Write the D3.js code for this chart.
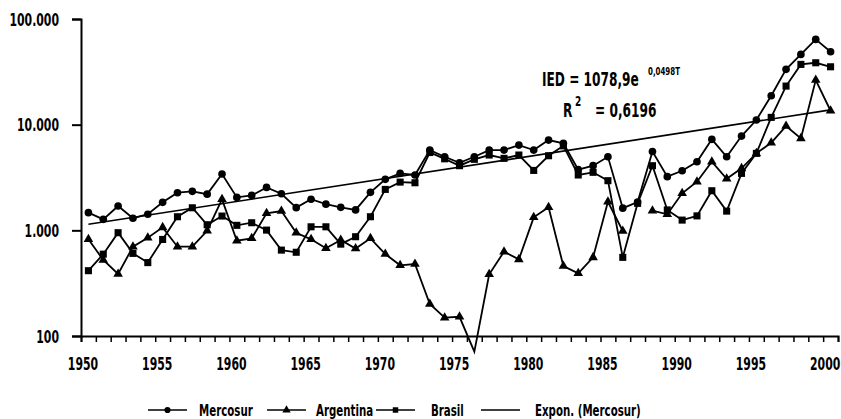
<!DOCTYPE html>
<html lang="es">
<head>
  <meta charset="UTF-8">
  <script src="https://d3js.org/d3.v7.min.js" charset="utf-8"></script>
  <title>IED Mercosur</title>
  <style>
    body { margin: 0; background: #fff; }
    text { font-family: "DejaVu Sans", sans-serif; font-weight: bold; fill: #000; }
  </style>
</head>
<body>
  <script type="text/javascript">
    // data (IED, log scale)
    var years = d3.range(1950, 2001);
    var mercosur = [1470, 1270, 1700, 1300, 1420, 1840, 2270, 2340, 2200, 3410,
      2050, 2140, 2550, 2220, 1640, 1970, 1770, 1650, 1560, 2290,
      3040, 3460, 3340, 5750, 4970, 4360, 4970, 5750, 5750, 6410,
      5750, 7150, 6650, 3750, 4090, 4970, 1620, 1850, 5570, 3220,
      3660, 4460, 7260, 4970, 7800, 11060, 18760, 33370, 46240, 64130, 48960];
    var argentina = [822, 524, 386, 700, 851, 1067, 700, 700, 991, 1965,
      797, 840, 1448, 1523, 949, 822, 676, 809, 672, 840,
      597, 467, 480, 201, 149, 152, 71, 384, 628, 531,
      1327, 1651, 459, 392, 555, 1865, 985, null, 1533, 1417,
      2239, 2884, 4457, 3077, 3859, 5350, 6743, 9700, 7420, 26420, 13540];
    var brasil = [415, 595, 950, 605, 495, 820, 1345, 1635, 1130, 1365,
      1115, 1180, 1005, 650, 620, 1080, 1080, 740, 870, 1345,
      2440, 2860, 2820, 5450, 4750, 4090, 4700, 5160, 4800, 5160,
      3690, 5080, 6300, 3340, 3540, 2950, 555, 1800, 4090, 1560,
      1250, 1370, 2370, 1520, 3460, 5350, 11720, 23180, 37180, 38530, 35300];
    // exponential trend (Mercosur), end values
    var trendYears = [1950, 2000];
    var trendValues = [1140, 13800];
    var yTicks = [100, 1000, 10000, 100000];
    var xLabels = [1950, 1955, 1960, 1965, 1970, 1975, 1980, 1985, 1990, 1995, 2000];

    var W = 841, H = 419;
    var plot = { left: 81, right: 838, top: 19, bottom: 336 };
    var squeeze = 0.64;   // the original font is a very narrow bold face

    var svg = d3.select("body").append("svg")
      .attr("width", W)
      .attr("height", H);

    // category axis: boundaries every year, points in the middle
    var xb = d3.scaleLinear().domain([1950, 2001]).range([plot.left, plot.right]);
    function xc(yr) { return xb(yr + 0.5); }
    var y = d3.scaleLog().domain([100, 100000]).range([plot.bottom, plot.top]);

    // y axis
    var yAxis = d3.axisLeft(y)
      .tickValues(yTicks)
      .tickSize(9)
      .tickPadding(13)
      .tickFormat(function (d) { return d3.format(",")(d).replace(/,/g, "."); });
    var gy = svg.append("g")
      .attr("transform", "translate(" + plot.left + ",0)")
      .call(yAxis);
    gy.select(".domain").attr("stroke", "#000").attr("stroke-width", 2);
    gy.selectAll(".tick line").attr("stroke", "#000").attr("stroke-width", 2);
    gy.selectAll(".tick text").attr("font-size", 17).attr("dy", "0.36em")
      .attr("font-family", null).attr("fill", null);

    // x axis ticks
    var xAxis = d3.axisBottom(xb)
      .tickValues(d3.range(1950, 2002))
      .tickSize(6)
      .tickFormat("");
    var gx = svg.append("g")
      .attr("transform", "translate(0," + plot.bottom + ")")
      .call(xAxis);
    gx.select(".domain").attr("stroke", "#000").attr("stroke-width", 2);
    gx.selectAll(".tick line").attr("stroke", "#000").attr("stroke-width", 1.5);

    svg.append("g").selectAll("text")
      .data(xLabels)
      .enter()
      .append("text")
      .attr("x", function (d) { return xb(d) + 2; })
      .attr("y", 370)
      .attr("text-anchor", "middle")
      .attr("font-size", 17)
      .text(function (d) { return d; });

    // trend line
    svg.append("path")
      .datum(trendYears.map(function (d, i) { return [d, trendValues[i]]; }))
      .attr("fill", "none")
      .attr("stroke", "#000")
      .attr("stroke-width", 1.6)
      .attr("d", d3.line()
        .x(function (d) { return xc(d[0]); })
        .y(function (d) { return y(d[1]); }));

    var series = [
      { name: "Mercosur", values: mercosur, symbol: d3.symbolCircle, size: 46 },
      { name: "Argentina", values: argentina, symbol: d3.symbolTriangle, size: 40 },
      { name: "Brasil", values: brasil, symbol: d3.symbolSquare, size: 50 }
    ];

    var line = d3.line()
      .defined(function (d) { return d[1] != null; })
      .x(function (d) { return xc(d[0]); })
      .y(function (d) { return y(d[1]); });

    series.forEach(function (s) {
      var pts = years.map(function (yr, i) { return [yr, s.values[i]]; });
      svg.append("path")
        .datum(pts)
        .attr("fill", "none")
        .attr("stroke", "#000")
        .attr("stroke-width", 1.8)
        .attr("d", line);
      // markers only inside the plot area
      svg.append("g").selectAll("path")
        .data(pts.filter(function (d) { return d[1] != null && d[1] >= 100; }))
        .enter()
        .append("path")
        .attr("transform", function (d) { return "translate(" + xc(d[0]) + "," + y(d[1]) + ")"; })
        .attr("d", d3.symbol().type(s.symbol).size(s.size))
        .attr("fill", "#000");
    });

    // equation
    var eq = svg.append("g");
    eq.append("text").attr("x", 542).attr("y", 86).attr("font-size", 19).text("IED = 1078,9e");
    eq.append("text").attr("x", 648).attr("y", 75).attr("font-size", 11).text("0,0498T");
    eq.append("text").attr("x", 563).attr("y", 116.5).attr("font-size", 19).text("R");
    eq.append("text").attr("x", 575).attr("y", 106).attr("font-size", 14).text("2");
    eq.append("text").attr("x", 595).attr("y", 116.5).attr("font-size", 19).text("= 0,6196");

    // legend
    var legendItems = [
      { name: "Mercosur", symbol: d3.symbolCircle, size: 30, x: 148, tx: 199 },
      { name: "Argentina", symbol: d3.symbolTriangle, size: 30, x: 267, tx: 316 },
      { name: "Brasil", symbol: d3.symbolSquare, size: 30, x: 376, tx: 431 },
      { name: "Expon. (Mercosur)", symbol: null, size: 0, x: 481, tx: 535 }
    ];
    var lg = svg.append("g").selectAll("g")
      .data(legendItems)
      .enter()
      .append("g");
    lg.append("line")
      .attr("x1", function (d) { return d.x; })
      .attr("x2", function (d) { return d.x + 39; })
      .attr("y1", 410).attr("y2", 410)
      .attr("stroke", "#000")
      .attr("stroke-width", 1.6);
    lg.filter(function (d) { return d.symbol; })
      .append("path")
      .attr("transform", function (d) { return "translate(" + (d.x + 19.5) + ",410)"; })
      .attr("d", function (d) { return d3.symbol().type(d.symbol).size(d.size)(); })
      .attr("fill", "#000");
    lg.append("text")
      .attr("x", function (d) { return d.tx; })
      .attr("y", 416)
      .attr("font-size", 16)
      .text(function (d) { return d.name; });

    // narrow every label to mimic the condensed face
    svg.selectAll("text").each(function () {
      var len = this.getComputedTextLength();
      d3.select(this)
        .attr("textLength", len * squeeze)
        .attr("lengthAdjust", "spacingAndGlyphs");
    });
  </script>
</body>
</html>
